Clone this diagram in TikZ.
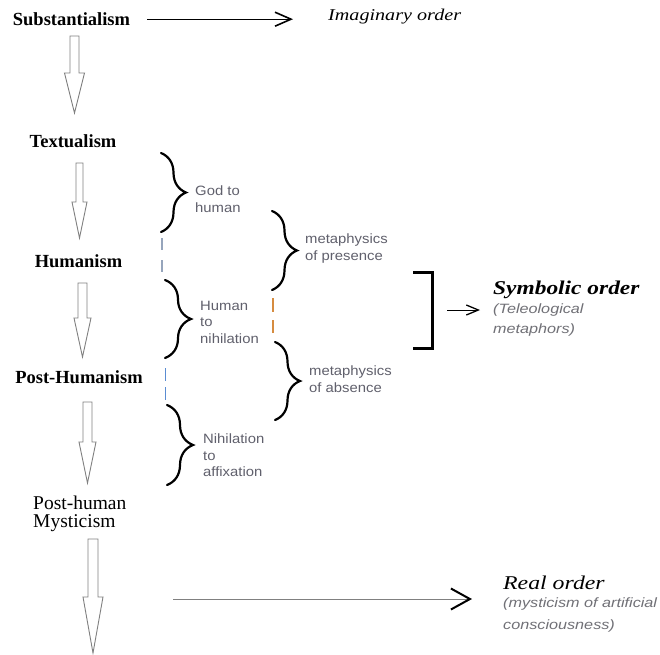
\documentclass[tikz,border=0pt]{standalone}
\usepackage{fontspec}
\setmainfont{Liberation Serif}
\newfontfamily\orderfont[FakeStretch=1.22]{Liberation Serif Italic}
\newfontfamily\orderboldfont[FakeStretch=1.2]{Liberation Serif Bold Italic}
\newfontfamily\labelfont[FakeStretch=1.1]{Liberation Sans}
\newfontfamily\notefont[FakeStretch=1.2]{Liberation Sans Italic}
\usetikzlibrary{arrows.meta,decorations.pathreplacing,calc}

\definecolor{labelgray}{RGB}{96,96,108}
\definecolor{notegray}{RGB}{112,112,118}
\definecolor{outlinegray}{RGB}{128,128,128}
\definecolor{dashsteel}{RGB}{150,165,188}
\definecolor{dashorange}{RGB}{214,140,64}
\definecolor{dashsky}{RGB}{90,140,210}

% hollow downward block arrow: centre x, top, head start, tip, half shaft, half head
\newcommand\blockdown[6]{%
  \draw[blockarrow] ({#1-#5},#2) -- ({#1+#5},#2) -- ({#1+#5},#3) -- ({#1+#6},#3)
    -- (#1,#4) -- ({#1-#6},#3) -- ({#1-#5},#3) -- cycle;}

\tikzset{
  stage/.style={font=\bfseries\fontsize{18.5pt}{20pt}\selectfont, inner sep=0pt},
  stagelight/.style={font=\fontsize{19.5pt}{18pt}\selectfont, inner sep=0pt, align=left},
  order/.style={font=\orderfont\fontsize{16.5pt}{18pt}\selectfont, inner sep=0pt},
  boldorder/.style={font=\orderboldfont\fontsize{19.5pt}{21pt}\selectfont, inner sep=0pt},
  bigorder/.style={font=\orderfont\fontsize{19.5pt}{21pt}\selectfont, inner sep=0pt},
  grayword/.style={font=\labelfont\fontsize{13.5pt}{16.5pt}\selectfont, text=labelgray,
    inner sep=0pt, align=left},
  note/.style={font=\notefont\fontsize{13.5pt}{#1}\selectfont, text=notegray,
    inner sep=0pt, align=left},
  blockarrow/.style={draw=outlinegray, fill=white, line width=0.9pt, line join=miter},
  curly/.style={decorate, decoration={brace, amplitude=#1, aspect=0.5},
    line width=2.2pt, line cap=round},
  bracket/.style={line width=3pt},
  dashline/.style={draw=#1, line width=1.4pt},
}

\begin{document}
\begin{tikzpicture}[x=1pt, y=-1pt]
\useasboundingbox[fill=white] (0,0) rectangle (660,654);

% stages of the sequence
\node[stage, anchor=base] (sub) at (71.5,25.5) {Substantialism};
\node[stage, anchor=base] (tex) at (73,147) {Textualism};
\node[stage, anchor=base] (hum) at (78.5,267) {Humanism};
\node[stage, anchor=base] (post) at (79,383) {Post-Humanism};
\node[stagelight, anchor=north west] (mys) at (33,496) {Post-human\\Mysticism};

% hollow arrows between the stages
\blockdown{74.5}{36}{73}{113}{4.5}{10}
\blockdown{79.5}{163}{202}{238}{3.5}{7.5}
\blockdown{82.5}{283}{318}{357}{4.5}{8.5}
\blockdown{87.5}{402}{442}{483}{4.5}{8.5}
\blockdown{93}{539}{597}{653}{5}{10}

% orders
\node[order, anchor=base west] (imag) at (328,20.5) {Imaginary order};
\node[boldorder, anchor=base west] (symb) at (493,294) {Symbolic order};
\node[note={20pt}, anchor=north west] (symbnote) at (493,304) {(Teleological\\metaphors)};
\node[bigorder, anchor=base west] (real) at (503,589) {Real order};
\node[note={22pt}, anchor=north west] (realnote) at (503,598)
  {(mysticism of artificial\\consciousness)};

% arrows to the orders
\draw[line width=0.9pt, -{Straight Barb[length=16pt, width=14pt, line width=1.6pt]}]
  ($(sub.east)+(17,0)$) -- ($(sub.east -| imag.west)+(-35,0)$);

\coordinate (brk) at (432,310);
\draw[bracket] (413,272) -- (432,272) -- (432,348) -- (413,348);
\draw[line width=1pt, -{Straight Barb[length=12pt, width=10pt, line width=1.3pt]}]
  ($(brk)+(15,0)$) -- ($(brk -| symb.west)+(-13,0)$);

\coordinate (realstart) at (173,599);
\draw[draw=outlinegray, line width=1pt,
  -{Straight Barb[length=19pt, width=21pt, line width=2pt, black]}]
  (realstart) -- ($(realstart -| real.west)+(-31,0)$);

% braces and their labels
\draw[curly=25pt] (161,153) -- (161,232);
\node[grayword, anchor=north west] (godhum) at (195,186) {God to\\human};
\draw[curly=25pt] (272,211) -- (272,290);
\node[grayword, anchor=north west] (mpres) at (305,234) {metaphysics\\of presence};
\draw[curly=26pt] (165,280) -- (165,358);
\node[grayword, anchor=north west] (humnih) at (200,301) {Human\\to\\nihilation};
\draw[curly=25pt] (275,342) -- (275,420);
\node[grayword, anchor=north west] (mabs) at (309,366) {metaphysics\\of absence};
\draw[curly=26pt] (167,405) -- (167,485);
\node[grayword, anchor=north west] (nihaff) at (203,434) {Nihilation\\to\\affixation};

% dashed separators
\draw[dashline=dashsteel, dash pattern=on 12pt off 10pt] (162,238) -- (162,273);
\draw[dashline=dashorange, dash pattern=on 14pt off 8pt] (273,298) -- (273,333);
\draw[dashline=dashsky, dash pattern=on 13pt off 6pt] (165.5,368) -- (165.5,400);
\end{tikzpicture}
\end{document}
